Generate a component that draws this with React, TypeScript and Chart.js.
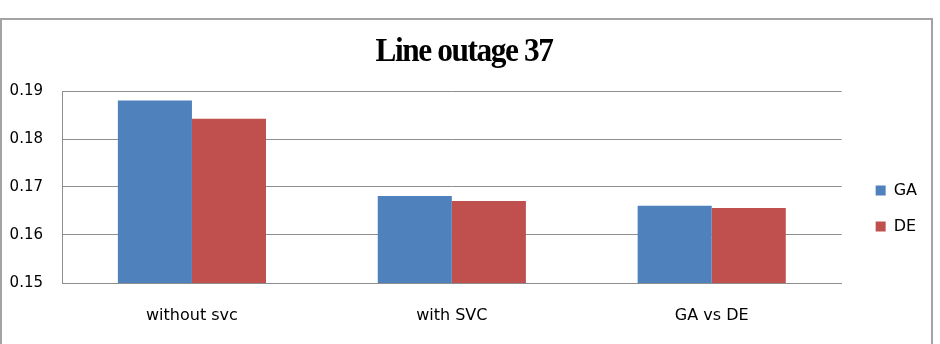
import React, { useEffect, useRef } from "react";
import { Chart, registerables } from "chart.js";

Chart.register(...registerables);

const chartTitle = "Line outage 37";
const categories = ["without svc", "with SVC", "GA vs DE"];
const seriesNames = ["GA", "DE"];
const gaValues = [0.188, 0.1681, 0.1661];
const deValues = [0.1842, 0.1671, 0.1656];
const yMin = 0.15;
const yMax = 0.19;
const yStep = 0.01;

const GRID = "#8e8e8e";
const FONT = "'DejaVu Sans', sans-serif";

const titlePlugin = {
  id: "condensedTitle",
  afterDraw(chart: any) {
    const ctx = chart.ctx as CanvasRenderingContext2D;
    ctx.save();
    ctx.font = "bold 33px 'Liberation Serif', serif";
    ctx.fillStyle = "#000";
    ctx.textAlign = "center";
    ctx.textBaseline = "alphabetic";
    (ctx as any).letterSpacing = "-1.5px";
    ctx.translate(464, 61);
    ctx.scale(0.95, 1);
    ctx.fillText(chartTitle, 0, 0);
    ctx.restore();
  },
};

export default function App() {
  const ref = useRef<HTMLCanvasElement | null>(null);

  useEffect(() => {
    if (!ref.current) return;
    const chart = new Chart(ref.current, {
      type: "bar",
      data: {
        labels: categories,
        datasets: [
          {
            label: seriesNames[0],
            data: gaValues,
            backgroundColor: "#4F81BD",
            borderWidth: 0,
            categoryPercentage: 0.57,
            barPercentage: 1,
          },
          {
            label: seriesNames[1],
            data: deValues,
            backgroundColor: "#C0504D",
            borderWidth: 0,
            categoryPercentage: 0.57,
            barPercentage: 1,
          },
        ],
      },
      options: {
        animation: false,
        responsive: false,
        maintainAspectRatio: false,
        layout: { padding: { top: 91, bottom: 18, left: 0, right: 13 } },
        plugins: {
          title: { display: false },
          tooltip: { enabled: false },
          legend: {
            display: true,
            position: "right",
            align: "center",
            labels: {
              boxWidth: 10,
              boxHeight: 10,
              padding: 20,
              color: "#000",
              font: { family: FONT, size: 16 },
            },
          },
        },
        scales: {
          x: {
            grid: { display: false, drawTicks: false },
            border: { display: true, color: GRID, width: 1 },
            ticks: {
              color: "#000",
              padding: 23,
              font: { family: FONT, size: 16 },
            },
            afterFit: (scale: any) => {
              scale.height = 43;
            },
          },
          y: {
            min: yMin,
            max: yMax,
            grid: { color: GRID, lineWidth: 1, drawTicks: false },
            border: { display: true, color: GRID, width: 1 },
            ticks: {
              stepSize: yStep,
              color: "#000",
              padding: 19,
              font: { family: FONT, size: 15 },
              callback: (v: any) => Number(v).toFixed(2),
            },
            afterFit: (scale: any) => {
              scale.width = 62;
            },
          },
          spacer: {
            type: "linear",
            position: "right",
            display: true,
            grid: { display: false, drawTicks: false },
            border: { display: false },
            ticks: { display: false },
            afterFit: (scale: any) => {
              scale.width = 14;
            },
          },
        },
      },
      plugins: [titlePlugin],
    });
    return () => chart.destroy();
  }, []);

  return (
    <div
      style={{
        position: "absolute",
        left: 0,
        top: 0,
        width: 940,
        height: 344,
        background: "#fff",
        overflow: "hidden",
      }}
    >
      <div
        style={{
          position: "absolute",
          left: 0,
          top: 18,
          width: 933,
          height: 340,
          border: "2px solid #a3a3a3",
          boxSizing: "border-box",
        }}
      />
      <canvas
        ref={ref}
        width={940}
        height={344}
        style={{ position: "absolute", left: 0, top: 0, width: 940, height: 344 }}
      />
    </div>
  );
}
